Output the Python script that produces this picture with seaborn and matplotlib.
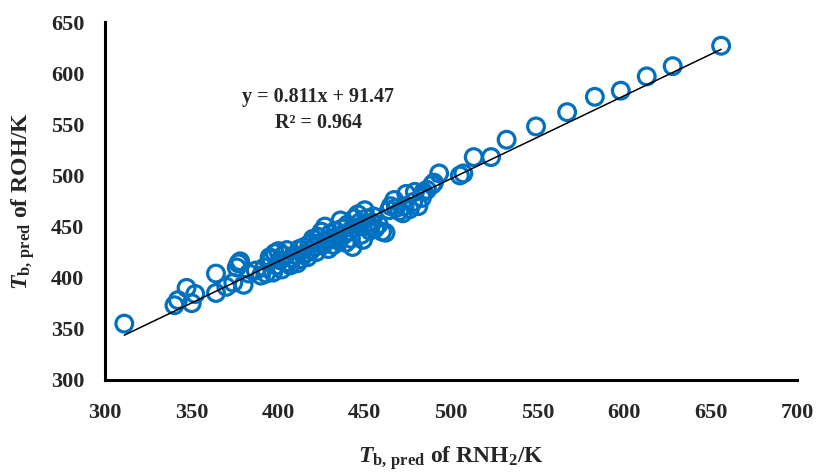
import numpy as np
import pandas as pd
import matplotlib
matplotlib.use('Agg')
import matplotlib.pyplot as plt
import seaborn as sns

x_rnh2 = [311, 340, 342, 347, 350, 352, 364, 364, 370, 374, 377, 378, 376, 380, 383,
          387, 390, 392, 393, 395, 396, 397, 398, 399, 400, 401, 402, 403, 405, 406,
          407, 408, 410, 411, 412, 413, 415, 416, 417, 418, 419, 420, 421, 422, 423,
          424, 425, 426, 427, 428, 429, 430, 431, 432, 433, 434, 435, 436, 437, 438,
          439, 440, 441, 442, 443, 444, 445, 446, 447, 448, 449, 450, 451, 452, 453,
          454, 455, 456, 458, 460, 462, 464, 465, 467, 468, 470, 472, 473, 474, 476,
          478, 479, 481, 483, 484, 486, 489, 490, 493, 505, 507, 513, 523, 532, 549,
          567, 583, 598, 613, 628, 656]
y_roh = [355, 373, 378, 390, 375, 384, 404, 385, 391, 395, 414, 416, 410, 393, 404,
         407, 402, 410, 404, 420, 418, 405, 424, 412, 426, 417, 408, 422, 427, 415,
         412, 419, 422, 414, 428, 418, 430, 424, 420, 433, 427, 438, 430, 425, 440,
         434, 445, 432, 450, 436, 428, 443, 438, 432, 446, 440, 436, 456, 448, 442,
         434, 452, 445, 438, 430, 458, 449, 462, 454, 442, 437, 466, 458, 450, 446,
         454, 460, 448, 452, 445, 444, 466, 470, 476, 468, 465, 463, 470, 482, 467,
         474, 484, 470, 478, 484, 486, 491, 493, 502, 500, 502, 518, 518, 535, 548,
         562, 577, 583, 597, 607, 627]

slope = 0.811
intercept = 91.47
r2 = 0.964

x_ticks = [300, 350, 400, 450, 500, 550, 600, 650, 700]
y_ticks = [300, 350, 400, 450, 500, 550, 600, 650]

df = pd.DataFrame({'x': x_rnh2, 'y': y_roh})
fit_x = np.array([min(x_rnh2), max(x_rnh2)])
fit = pd.DataFrame({'x': fit_x, 'y': slope * fit_x + intercept})

sns.set_style('white')
plt.rcParams['font.family'] = ['Liberation Serif', 'DejaVu Serif']
plt.rcParams['font.weight'] = 'bold'
plt.rcParams['mathtext.fontset'] = 'custom'
plt.rcParams['mathtext.rm'] = 'Liberation Serif:bold'
plt.rcParams['mathtext.bf'] = 'Liberation Serif:bold'
plt.rcParams['mathtext.it'] = 'Liberation Serif:italic:bold'

fig = plt.figure(figsize=(8.16, 4.73), dpi=100)
ax = fig.add_axes([0.129, 0.197, 0.848, 0.756])

sns.scatterplot(data=df, x='x', y='y', ax=ax, marker='o', s=145,
                facecolors='none', edgecolor='#0070C0', linewidth=2.3, zorder=2)
sns.lineplot(data=fit, x='x', y='y', ax=ax, color='black', linewidth=1.1, zorder=3)

ax.set_xlim(300, 700)
ax.set_ylim(300, 650)
ax.set_xticks(x_ticks)
ax.set_xticklabels([str(v) for v in x_ticks], fontsize=16, fontweight='bold')
ax.set_yticks(y_ticks)
ax.set_yticklabels([str(v) for v in y_ticks], fontsize=16, fontweight='bold')
ax.tick_params(axis='both', direction='in', length=5, width=2)
ax.tick_params(axis='x', pad=17)
ax.tick_params(axis='y', pad=15)

for s in ['top', 'right']:
    ax.spines[s].set_visible(False)
for s in ['left', 'bottom']:
    ax.spines[s].set_linewidth(2.2)
    ax.spines[s].set_color('black')

ax.set_xlabel(r'$\mathit{T}_{\mathrm{b,\,pred}}$ of RNH$_{\mathrm{2}}$/K', fontsize=17,
              fontweight='bold', labelpad=15)
ax.set_ylabel(r'$\mathit{T}_{\mathrm{b,\,pred}}$ of ROH/K', fontsize=17,
              fontweight='bold', labelpad=10)

ax.text(423, 577, f'y = {slope}x + {intercept}', ha='center', va='center',
        fontsize=14.5, fontweight='bold')
ax.text(423, 551, f'R² = {r2}', ha='center', va='center', fontsize=14.5, fontweight='bold')

fig.savefig('out.png', dpi=100)
